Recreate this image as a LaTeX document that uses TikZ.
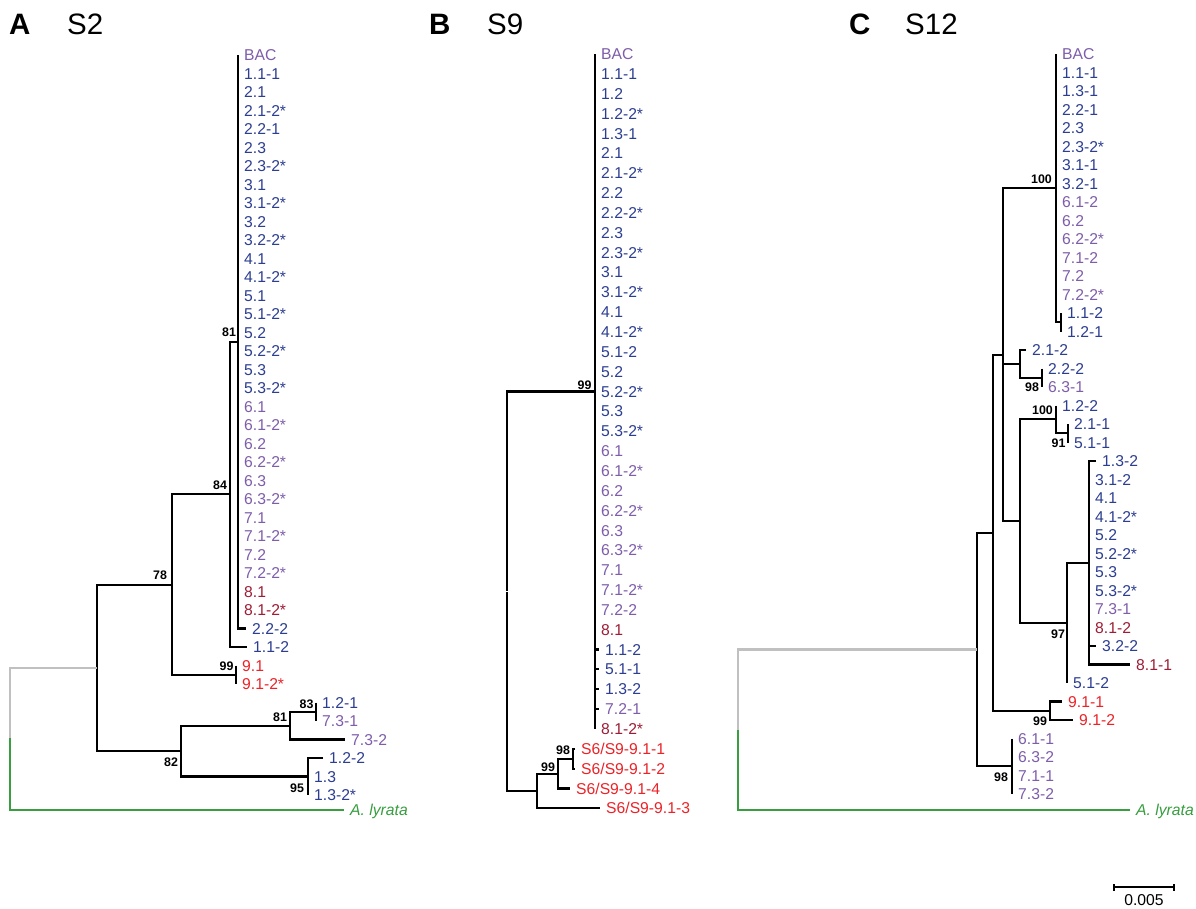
\documentclass[tikz,border=0pt]{standalone}
\usepackage{fontspec}
\setmainfont{Liberation Sans}
\definecolor{tblue}{RGB}{44,62,145}
\definecolor{tpurple}{RGB}{126,93,170}
\definecolor{tdred}{RGB}{158,28,52}
\definecolor{tred}{RGB}{236,34,39}
\definecolor{tgreen}{RGB}{56,158,64}
\definecolor{tgray}{RGB}{192,192,192}
\tikzset{
  tree/.style={line width=2.1pt, line join=miter, draw=black},
  root/.style={line width=2.1pt, line join=miter},
  tip/.style={anchor=west, inner xsep=6pt, inner ysep=0pt, text height=11.2pt, text depth=0pt,
    font=\fontsize{15.7}{18}\selectfont},
  bs/.style={anchor=center, inner sep=0pt, text height=8.9pt, text depth=0pt,
    font=\fontsize{12.4}{14}\selectfont\bfseries},
  ttl/.style={anchor=west, inner sep=0pt, text height=21pt, text depth=0pt,
    font=\fontsize{29.5}{32}\selectfont},
}
\begin{document}
\begin{tikzpicture}[x=1pt,y=-1pt]
\useasboundingbox (0,0) rectangle (1196,908);
\fill[white] (0,0) rectangle (1196,908);

% ---------- titles ----------
\node[ttl, font=\fontsize{29.5}{32}\selectfont\bfseries] (tA) at (9,24) {A};
\node[ttl] (sA) at (67,24) {S2};
\node[ttl, font=\fontsize{29.5}{32}\selectfont\bfseries] (tB) at (429,24) {B};
\node[ttl] (sB) at (487,24) {S9};
\node[ttl, font=\fontsize{29.5}{32}\selectfont\bfseries] (tC) at (849,24) {C};
\node[ttl] (sC) at (905,24) {S12};

% ================= Panel A =================
\foreach \lab/\cl/\x [count=\i from 0] in {
  BAC/tpurple/238, 1.1-1/tblue/238, 2.1/tblue/238, 2.1-2*/tblue/238, 2.2-1/tblue/238,
  2.3/tblue/238, 2.3-2*/tblue/238, 3.1/tblue/238, 3.1-2*/tblue/238, 3.2/tblue/238,
  3.2-2*/tblue/238, 4.1/tblue/238, 4.1-2*/tblue/238, 5.1/tblue/238, 5.1-2*/tblue/238,
  5.2/tblue/238, 5.2-2*/tblue/238, 5.3/tblue/238, 5.3-2*/tblue/238, 6.1/tpurple/238,
  6.1-2*/tpurple/238, 6.2/tpurple/238, 6.2-2*/tpurple/238, 6.3/tpurple/238, 6.3-2*/tpurple/238,
  7.1/tpurple/238, 7.1-2*/tpurple/238, 7.2/tpurple/238, 7.2-2*/tpurple/238, 8.1/tdred/238,
  8.1-2*/tdred/238, 2.2-2/tblue/246, 1.1-2/tblue/247, 9.1/tred/236, 9.1-2*/tred/236,
  1.2-1/tblue/316, 7.3-1/tpurple/316, 7.3-2/tpurple/345, 1.2-2/tblue/323, 1.3/tblue/308,
  1.3-2*/tblue/308}
{
  \node[tip, text=\cl] (A\i) at (\x,{55+18.5*\i}) {\lab};
}
\node[tip, text=tgreen, font=\fontsize{15.7}{18}\selectfont\itshape] (A41) at (344,810) {A. lyrata};

\coordinate (Ap) at (238,341.75);
\coordinate (A81) at (230,494.4);
\coordinate (A99) at (236,674.75);
\coordinate (A84) at (172,584.6);
\coordinate (A83) at (316,711.75);
\coordinate (A81b) at (290,725.6);
\coordinate (A95) at (308,776.5);
\coordinate (A82) at (181,751.1);
\coordinate (A78) at (97,667.8);
\coordinate (Ag) at (10,738);

\draw[tree] (A0.west) |- (A31.west);
\draw[tree] (Ap) -| (A81) |- (A32.west);
\draw[tree] (A33.west) -- (A34.west);
\draw[tree] (A81) -| (A84) |- (A99);
\draw[tree] (A35.west) -- (A36.west);
\draw[tree] (A83) -| (A81b) |- (A37.west);
\draw[tree] (A38.west) -| (A95) |- (A40.west);
\draw[tree] (A81b) -| (A82) |- (A95);
\draw[tree] (A84) -| (A78) |- (A82);
\draw[root, draw=tgray] (A78) -| (Ag);
\draw[root, draw=tgreen] (Ag) |- (A41.west);

\node[bs] (bA1) at (229,332) {81};
\node[bs] (bA2) at (220,485) {84};
\node[bs] (bA3) at (160,575) {78};
\node[bs] (bA4) at (226.5,666) {99};
\node[bs] (bA5) at (306.5,704) {83};
\node[bs] (bA6) at (280,717) {81};
\node[bs] (bA7) at (171,762) {82};
\node[bs] (bA8) at (297,788) {95};

% ================= Panel B =================
\foreach \lab/\cl/\x [count=\i from 0] in {
  BAC/tpurple/595, 1.1-1/tblue/595, 1.2/tblue/595, 1.2-2*/tblue/595, 1.3-1/tblue/595,
  2.1/tblue/595, 2.1-2*/tblue/595, 2.2/tblue/595, 2.2-2*/tblue/595, 2.3/tblue/595,
  2.3-2*/tblue/595, 3.1/tblue/595, 3.1-2*/tblue/595, 4.1/tblue/595, 4.1-2*/tblue/595,
  5.1-2/tblue/595, 5.2/tblue/595, 5.2-2*/tblue/595, 5.3/tblue/595, 5.3-2*/tblue/595,
  6.1/tpurple/595, 6.1-2*/tpurple/595, 6.2/tpurple/595, 6.2-2*/tpurple/595, 6.3/tpurple/595,
  6.3-2*/tpurple/595, 7.1/tpurple/595, 7.1-2*/tpurple/595, 7.2-2/tpurple/595, 8.1/tdred/595,
  1.1-2/tblue/599, 5.1-1/tblue/599, 1.3-2/tblue/599, 7.2-1/tpurple/599, 8.1-2*/tdred/595}
{
  \node[tip, text=\cl] (B\i) at (\x,{54+19.85*\i}) {\lab};
}
\node[tip, text=tred] (B35) at (575,748.75) {S6/S9-9.1-1};
\node[tip, text=tred] (B36) at (575,768.6) {S6/S9-9.1-2};
\node[tip, text=tred] (B37) at (570,788.45) {S6/S9-9.1-4};
\node[tip, text=tred] (B38) at (600,808.3) {S6/S9-9.1-3};

\coordinate (Bp) at (595,391.45);
\coordinate (B98) at (573,758.7);
\coordinate (B99b) at (558,773.6);
\coordinate (Bc) at (537,791);
\coordinate (Broot) at (507,591.2);

\draw[tree] (B0.west) -- (B34.west);
\foreach \k in {30,31,32,33} { \draw[tree] (B\k.west -| B0.west) -- (B\k.west); }
\draw[tree] (B35.west) -| (B98) |- (B36.west);
\draw[tree] (B98) -| (B99b) |- (B37.west);
\draw[tree] (B99b) -| (Bc) |- (B38.west);
\draw[tree] (Bp) -| (Broot) |- (Bc);
\draw[white, line width=1.2pt] ([xshift=-1.6pt]Broot) -- ([xshift=1.6pt]Broot);

\node[bs] (bB1) at (584.5,385) {99};
\node[bs] (bB2) at (548,767) {99};
\node[bs] (bB3) at (563,750) {98};

% ================= Panel C =================
\foreach \lab/\cl/\x [count=\i from 0] in {
  BAC/tpurple/1056, 1.1-1/tblue/1056, 1.3-1/tblue/1056, 2.2-1/tblue/1056, 2.3/tblue/1056,
  2.3-2*/tblue/1056, 3.1-1/tblue/1056, 3.2-1/tblue/1056, 6.1-2/tpurple/1056, 6.2/tpurple/1056,
  6.2-2*/tpurple/1056, 7.1-2/tpurple/1056, 7.2/tpurple/1056, 7.2-2*/tpurple/1056, 1.1-2/tblue/1061,
  1.2-1/tblue/1061, 2.1-2/tblue/1026, 2.2-2/tblue/1042, 6.3-1/tpurple/1042, 1.2-2/tblue/1056,
  2.1-1/tblue/1068, 5.1-1/tblue/1068, 1.3-2/tblue/1096, 3.1-2/tblue/1089, 4.1/tblue/1089,
  4.1-2*/tblue/1089, 5.2/tblue/1089, 5.2-2*/tblue/1089, 5.3/tblue/1089, 5.3-2*/tblue/1089,
  7.3-1/tpurple/1089, 8.1-2/tdred/1089, 3.2-2/tblue/1096, 8.1-1/tdred/1130, 5.1-2/tblue/1067,
  9.1-1/tred/1062, 9.1-2/tred/1073, 6.1-1/tpurple/1012, 6.3-2/tpurple/1012, 7.1-1/tpurple/1012,
  7.3-2/tpurple/1012}
{
  \node[tip, text=\cl] (C\i) at (\x,{54+18.5*\i}) {\lab};
}
\node[tip, text=tgreen, font=\fontsize{15.7}{18}\selectfont\itshape] (C41) at (1130,810) {A. lyrata};

\coordinate (C11n) at (1061,322.25);
\coordinate (C100a) at (1056,188.1);
\coordinate (C98a) at (1042,377.75);
\coordinate (C21n) at (1020,363.9);
\coordinate (C91) at (1068,433.25);
\coordinate (C100b) at (1056,419.4);
\coordinate (Cbig) at (1089,562.75);
\coordinate (C97) at (1067,622.9);
\coordinate (Clow) at (1020,521.1);
\coordinate (C3) at (1003,354.6);
\coordinate (C99) at (1050,710.75);
\coordinate (C2) at (993,532.7);
\coordinate (C98b) at (1012,766.25);
\coordinate (C1) at (977,649.5);
\coordinate (Cg) at (738,730);

\draw[tree] (C0.west) |- (C11n);
\draw[tree] (C14.west) -- (C15.west);
\draw[tree] (C17.west) -- (C18.west);
\draw[tree] (C16.west) -| (C21n) |- (C98a);
\draw[tree] (C20.west) -- (C21.west);
\draw[tree] (C19.west) |- (C91);
\draw[tree] (C22.west) -| (Cbig) |- (C33.west);
\draw[tree] (C32.west -| Cbig) -- (C32.west);
\draw[tree] (Cbig) -| (C97) |- (C34.west);
\draw[tree] (C100b) -| (Clow) |- (C97);
\draw[tree] (C100a) -| (C3) |- (Clow);
\draw[tree] (C21n -| C3) -- (C21n);
\draw[tree] (C35.west) -| (C99) |- (C36.west);
\draw[tree] (C3) -| (C2) |- (C99);
\draw[tree] (C37.west) -- (C40.west);
\draw[tree] (C2) -| (C1) |- (C98b);
\draw[root, draw=tgray] (C1) -| (Cg);
\draw[root, draw=tgreen] (Cg) |- (C41.west);

\node[bs] (bC1) at (1041.5,179) {100};
\node[bs] (bC2) at (1032,387) {98};
\node[bs] (bC3) at (1042.5,410) {100};
\node[bs] (bC4) at (1058.5,443) {91};
\node[bs] (bC5) at (1058,634) {97};
\node[bs] (bC6) at (1040,721) {99};
\node[bs] (bC7) at (1001,777) {98};

% ---------- scale bar ----------
\coordinate (s1) at (1114,887);
\coordinate (s2) at (1174,887);
\draw[line width=1.8pt] (s1) -- (s2);
\draw[line width=1.8pt] ([yshift=-3.5pt]s1) -- ([yshift=3.5pt]s1);
\draw[line width=1.8pt] ([yshift=-3.5pt]s2) -- ([yshift=3.5pt]s2);
\node[anchor=center, inner sep=0pt, text height=11.2pt, text depth=0pt,
  font=\fontsize{15.7}{18}\selectfont] (sl) at (1144,900) {0.005};
\end{tikzpicture}
\end{document}
